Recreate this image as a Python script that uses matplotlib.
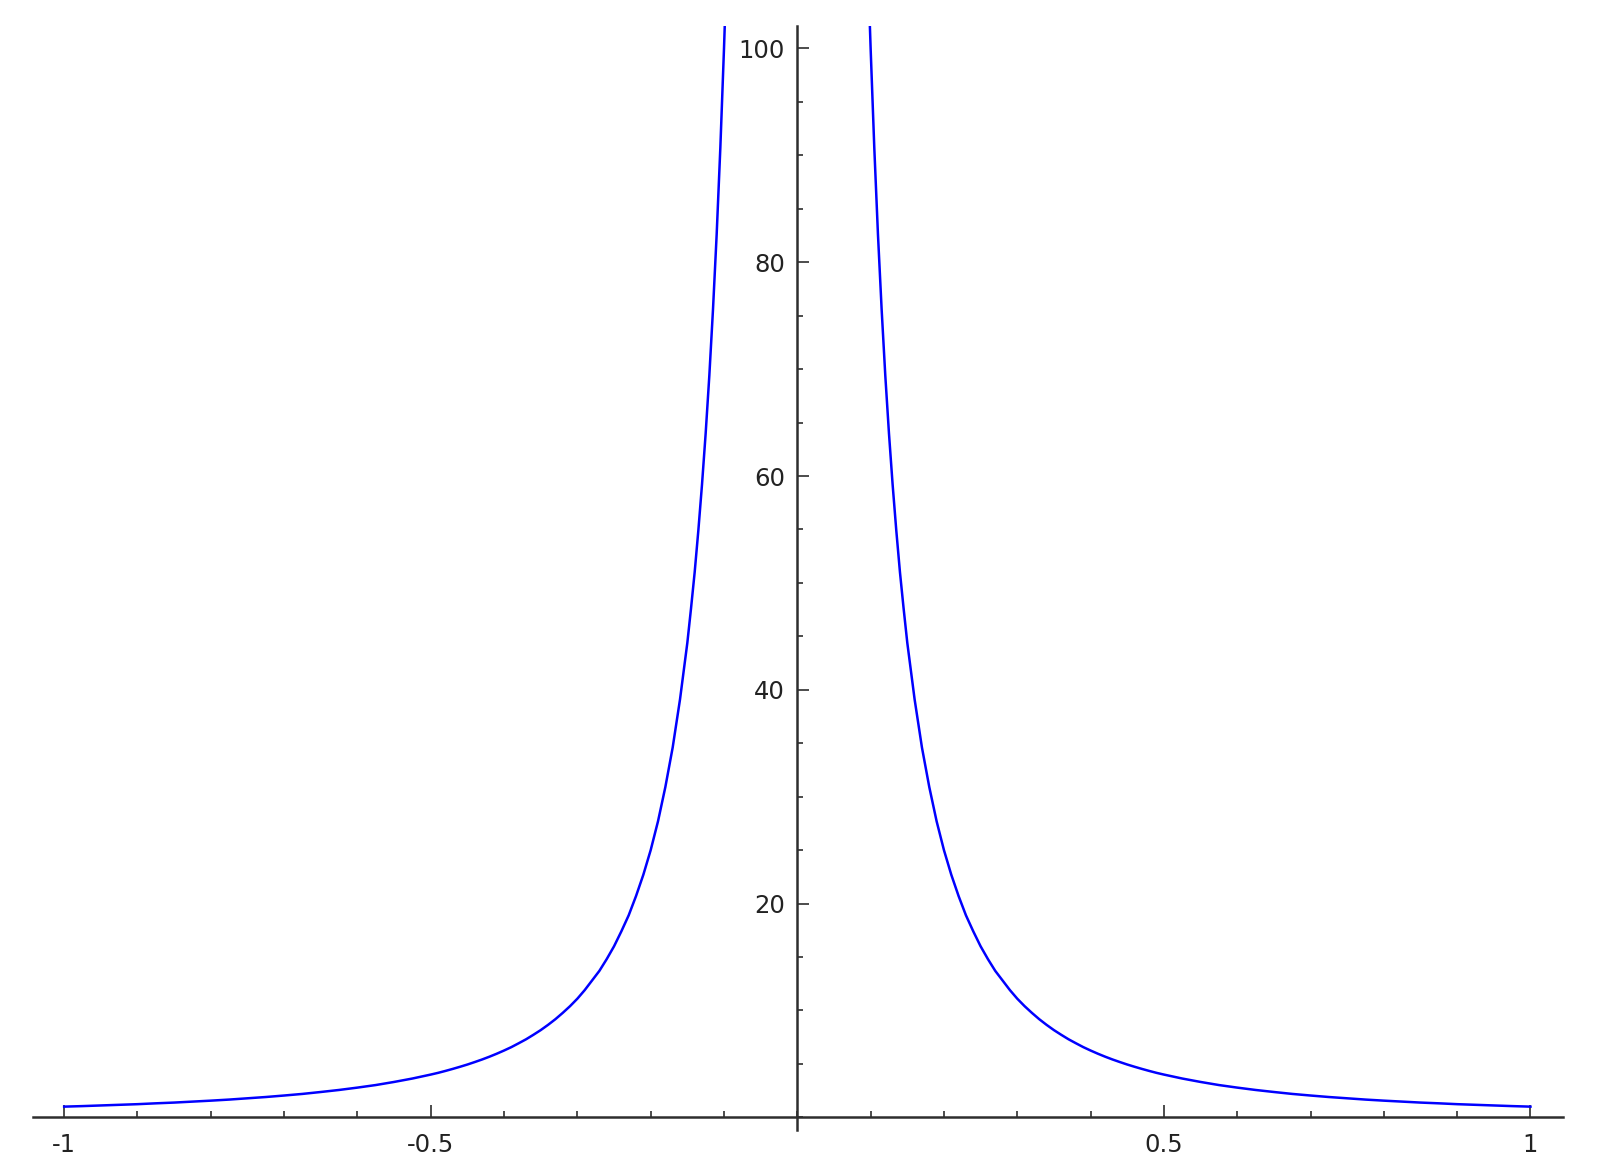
import matplotlib
matplotlib.use("Agg")
import matplotlib.pyplot as plt
from matplotlib.ticker import MultipleLocator, FixedLocator

# curve points (two branches around the pole at x = 0)
left_x = [-1.00, -0.975, -0.95, -0.925, -0.90, -0.875, -0.85, -0.825, -0.80, -0.775,
          -0.75, -0.725, -0.70, -0.675, -0.65, -0.625, -0.60, -0.575, -0.55, -0.525,
          -0.50, -0.49, -0.48, -0.47, -0.46, -0.45, -0.44, -0.43, -0.42, -0.41,
          -0.40, -0.39, -0.38, -0.37, -0.36, -0.35, -0.34, -0.33, -0.32, -0.31,
          -0.30, -0.29, -0.28, -0.27, -0.26, -0.25, -0.24, -0.23, -0.22, -0.21,
          -0.20, -0.19, -0.18, -0.17, -0.16, -0.15, -0.145, -0.14, -0.135, -0.13,
          -0.125, -0.12, -0.115, -0.11, -0.105, -0.10, -0.098]
left_y = [1.00, 1.05, 1.11, 1.17, 1.23, 1.31, 1.38, 1.47, 1.56, 1.66,
          1.78, 1.90, 2.04, 2.19, 2.37, 2.56, 2.78, 3.02, 3.31, 3.63,
          4.00, 4.16, 4.34, 4.53, 4.73, 4.94, 5.17, 5.41, 5.67, 5.95,
          6.25, 6.57, 6.93, 7.30, 7.72, 8.16, 8.65, 9.18, 9.77, 10.4,
          11.1, 11.9, 12.8, 13.7, 14.8, 16.0, 17.4, 18.9, 20.7, 22.7,
          25.0, 27.7, 30.9, 34.6, 39.1, 44.4, 47.6, 51.0, 54.9, 59.2,
          64.0, 69.4, 75.6, 82.6, 90.7, 100.0, 104.1]

right_x = [0.098, 0.10, 0.105, 0.11, 0.115, 0.12, 0.125, 0.13, 0.135, 0.14,
           0.145, 0.15, 0.16, 0.17, 0.18, 0.19, 0.20, 0.21, 0.22, 0.23,
           0.24, 0.25, 0.26, 0.27, 0.28, 0.29, 0.30, 0.31, 0.32, 0.33,
           0.34, 0.35, 0.36, 0.37, 0.38, 0.39, 0.40, 0.41, 0.42, 0.43,
           0.44, 0.45, 0.46, 0.47, 0.48, 0.49, 0.50, 0.525, 0.55, 0.575,
           0.60, 0.625, 0.65, 0.675, 0.70, 0.725, 0.75, 0.775, 0.80, 0.825,
           0.85, 0.875, 0.90, 0.925, 0.95, 0.975, 1.00]
right_y = [104.1, 100.0, 90.7, 82.6, 75.6, 69.4, 64.0, 59.2, 54.9, 51.0,
           47.6, 44.4, 39.1, 34.6, 30.9, 27.7, 25.0, 22.7, 20.7, 18.9,
           17.4, 16.0, 14.8, 13.7, 12.8, 11.9, 11.1, 10.4, 9.77, 9.18,
           8.65, 8.16, 7.72, 7.30, 6.93, 6.57, 6.25, 5.95, 5.67, 5.41,
           5.17, 4.94, 4.73, 4.53, 4.34, 4.16, 4.00, 3.63, 3.31, 3.02,
           2.78, 2.56, 2.37, 2.19, 2.04, 1.90, 1.78, 1.66, 1.56, 1.47,
           1.38, 1.31, 1.23, 1.17, 1.11, 1.05, 1.00]

x_ticks = [-1, -0.5, 0.5, 1]
x_labels = ['-1', '-0.5', '0.5', '1']
y_ticks = [20, 40, 60, 80, 100]
y_labels = ['20', '40', '60', '80', '100']

axis_col = '#2e2e2e'
text_col = '#222222'

fig = plt.figure(figsize=(16, 11.72), dpi=100, facecolor='white')
ax = fig.add_axes([0.0204, 0.0358, 0.9563, 0.942])

ax.plot(left_x, left_y, color='#0000ff', linewidth=1.8, solid_joinstyle='round')
ax.plot(right_x, right_y, color='#0000ff', linewidth=1.8, solid_joinstyle='round')

ax.set_xlim(-1.043, 1.044)
ax.set_ylim(-1.19, 102.1)

# axes crossing at the origin, Sage style
for side in ['top', 'right']:
    ax.spines[side].set_visible(False)
ax.spines['left'].set_position(('data', 0))
ax.spines['bottom'].set_position(('data', 0))
for side in ['left', 'bottom']:
    ax.spines[side].set_color(axis_col)
    ax.spines[side].set_linewidth(1.8)

ax.xaxis.set_major_locator(FixedLocator(x_ticks))
ax.set_xticklabels(x_labels)
ax.xaxis.set_minor_locator(MultipleLocator(0.1))
ax.yaxis.set_major_locator(FixedLocator(y_ticks))
ax.set_yticklabels(y_labels)
ax.yaxis.set_minor_locator(MultipleLocator(5))

ax.tick_params(which='both', direction='in', color=axis_col, width=1.2)
ax.tick_params(which='major', length=8.5, labelsize=17.5, labelcolor=text_col)
ax.tick_params(which='minor', length=4.5)
ax.tick_params(axis='x', which='major', pad=11)
ax.tick_params(axis='y', which='major', pad=9)

ax.set_facecolor('white')

plt.savefig('out.png', dpi=100, facecolor='white')
print("Generated: out.png")
